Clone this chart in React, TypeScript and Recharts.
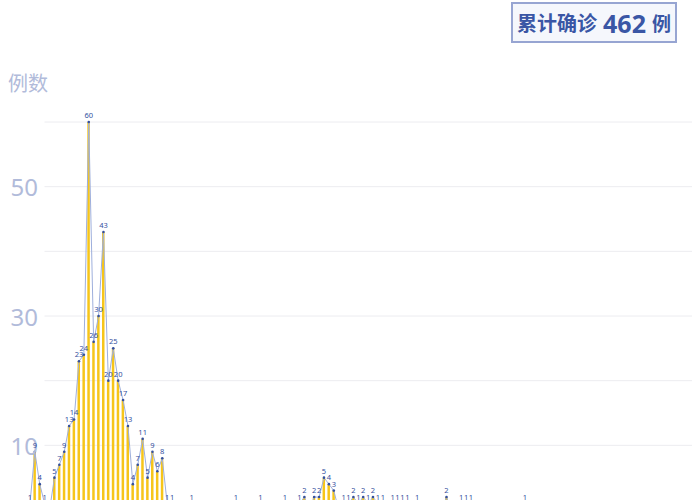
import {
  Bar,
  CartesianGrid,
  ComposedChart,
  LabelList,
  Line,
  XAxis,
  YAxis,
} from "recharts";

// daily confirmed cases, one entry per day
const DAILY_CASES = [
  1, 9, 4, 1, 0, 5, 7, 9, 13, 14,
  23, 24, 60, 26, 30, 43, 20, 25, 20, 17,
  13, 4, 7, 11, 5, 9, 6, 8, 1, 1,
  0, 0, 0, 1, 0, 0, 0, 0, 0, 0,
  0, 0, 1, 0, 0, 0, 0, 1, 0, 0,
  0, 0, 1, 0, 0, 1, 2, 0, 2, 2,
  5, 4, 3, 0, 1, 1, 2, 1, 2, 1,
  2, 1, 1, 0, 1, 1, 1, 1, 0, 1,
  0, 0, 0, 0, 0, 2, 0, 0, 1, 1,
  1, 0, 0, 0, 0, 0, 0, 0, 0, 0,
  0, 1, 0, 0, 0, 0, 0, 0, 0, 0,
  0, 0, 0, 0, 0, 0, 0, 0, 0, 0,
  0, 0, 0, 0, 0, 0, 0, 0, 0, 0,
  0, 0, 0, 0, 0, 0,
];

const DAYS = DAILY_CASES.map((_, i) => `第${i + 1}天`);

const Y_TICKS = [0, 10, 20, 30, 40, 50, 60];
const Y_LABELS = [10, 30, 50];

const TOTAL = DAILY_CASES.reduce((a, b) => a + b, 0);

const data = DAYS.map((day, i) => ({ day, cases: DAILY_CASES[i] }));

const BLUE = "#3a56a5";
const PALE = "#b1bbda";

function YTick(props: any) {
  const { y, payload } = props;
  if (!Y_LABELS.includes(payload.value)) return <g />;
  return (
    <text
      x={38}
      y={y}
      textAnchor="end"
      dominantBaseline="central"
      fontSize={24}
      fill={PALE}
      fontFamily="Noto Sans"
    >
      {payload.value}
    </text>
  );
}

function GridLine(props: any) {
  return (
    <line
      key={props.key}
      x1={props.x1 + 17}
      x2={props.x2 - 2}
      y1={props.y1}
      y2={props.y2}
      stroke="#ececf0"
      strokeWidth={1}
    />
  );
}

export default function App() {
  return (
    <div
      style={{
        position: "fixed",
        left: 0,
        top: 0,
        width: 700,
        height: 500,
        overflow: "hidden",
        background: "#fff",
        fontFamily: "'Noto Sans CJK SC', 'Noto Sans', sans-serif",
      }}
    >
      <div
        style={{
          position: "absolute",
          left: 8,
          top: 68,
          fontSize: 20,
          color: PALE,
        }}
      >
        例数
      </div>
      <div
        style={{
          position: "absolute",
          left: 511,
          top: 2,
          width: 166,
          height: 41,
          boxSizing: "border-box",
          border: "2px solid #97a5d2",
          background: "#f5f7fc",
          color: BLUE,
          fontWeight: 700,
          display: "flex",
          alignItems: "center",
          justifyContent: "center",
          gap: 6,
          zIndex: 2,
        }}
      >
        <span style={{ fontSize: 20 }}>累计确诊</span>
        <span style={{ fontSize: 25, fontFamily: "'Noto Sans', sans-serif" }}>
          {TOTAL}
        </span>
        <span style={{ fontSize: 19 }}>例</span>
      </div>
      <ComposedChart
        width={700}
        height={525}
        data={data}
        margin={{ top: 122, right: 6, bottom: 15, left: 0 }}
      >
        <CartesianGrid vertical={false} horizontal={GridLine} />
        <XAxis dataKey="day" hide />
        <YAxis
          domain={[0, 60]}
          ticks={Y_TICKS}
          width={27.5}
          axisLine={false}
          tickLine={false}
          tick={YTick}
        />
        <Bar
          dataKey="cases"
          barSize={2.5}
          fill="#f6c51a"
          isAnimationActive={false}
        />
        <Line
          type="linear"
          dataKey="cases"
          stroke="#9eafdc"
          strokeWidth={1}
          dot={{ r: 1.3, fill: "#34509e", stroke: "none" }}
          activeDot={false}
          isAnimationActive={false}
        >
          <LabelList
            dataKey="cases"
            position="top"
            offset={4}
            fontSize={7.5}
            fill="#34509e"
            fontFamily="Noto Sans"
          />
        </Line>
      </ComposedChart>
    </div>
  );
}
